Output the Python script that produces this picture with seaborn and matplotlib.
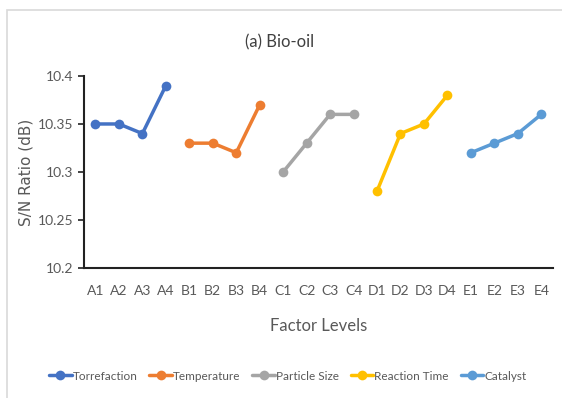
import matplotlib
matplotlib.use("Agg")
import matplotlib.pyplot as plt
import matplotlib.patches as patches
import seaborn as sns
import pandas as pd

# factor levels on the x axis
levels = ["A1", "A2", "A3", "A4", "B1", "B2", "B3", "B4", "C1", "C2", "C3", "C4",
          "D1", "D2", "D3", "D4", "E1", "E2", "E3", "E4"]

# S/N ratio per factor (4 levels each)
torrefaction = [10.35, 10.35, 10.34, 10.39]
temperature = [10.33, 10.33, 10.32, 10.37]
particle_size = [10.30, 10.33, 10.36, 10.36]
reaction_time = [10.28, 10.34, 10.35, 10.38]
catalyst = [10.32, 10.33, 10.34, 10.36]

series_names = ["Torrefaction", "Temperature", "Particle Size", "Reaction Time", "Catalyst"]
series_vals = [torrefaction, temperature, particle_size, reaction_time, catalyst]
colors = ["#4472C4", "#ED7D31", "#A5A5A5", "#FFC000", "#5B9BD5"]

rows = []
for i, (name, vals) in enumerate(zip(series_names, series_vals)):
    for j, v in enumerate(vals):
        rows.append({"pos": i * 4 + j, "level": levels[i * 4 + j], "factor": name, "sn": v})
df = pd.DataFrame(rows)

sns.set_style("white")
plt.rcParams['font.family'] = ['Lato', 'DejaVu Sans']

fig = plt.figure(figsize=(5.62, 3.98), dpi=100)
ax = fig.add_axes([0.149, 0.327, 0.835, 0.482])

sns.lineplot(data=df, x="pos", y="sn", hue="factor", hue_order=series_names,
             palette=colors, marker="o", markersize=7, markeredgewidth=0,
             linewidth=2.5, ax=ax, legend=True)

ax.set_xlim(-0.5, 19.5)
ax.set_ylim(10.2, 10.4)
ax.set_xticks(range(len(levels)))
ax.set_xticklabels(levels)
ax.set_yticks([10.2, 10.25, 10.3, 10.35, 10.4])
ax.set_yticklabels(["10.2", "10.25", "10.3", "10.35", "10.4"])
ax.tick_params(axis="x", length=0, labelsize=10, labelcolor="#595959", pad=12)
ax.tick_params(axis="y", length=4, width=1.2, direction="out", left=True,
               labelsize=10, labelcolor="#595959", color="#222222")

for s in ["top", "right"]:
    ax.spines[s].set_visible(False)
ax.spines["left"].set_color("#222222")
ax.spines["left"].set_linewidth(1.5)
ax.spines["bottom"].set_color("#222222")
ax.spines["bottom"].set_linewidth(1.5)

ax.set_xlabel("Factor Levels", fontsize=12, color="#595959")
ax.set_ylabel("S/N Ratio (dB)", fontsize=11, color="#595959", family="DejaVu Sans")
ax.xaxis.set_label_coords(0.5, -0.26)
ax.yaxis.set_label_coords(-0.108, 0.5)

fig.text(0.497, 0.893, "(a) Bio-oil", ha="center", va="center", fontsize=12, color="#404040")

handles, labels = ax.get_legend_handles_labels()
ax.legend(handles, labels, loc="center", ncol=5, frameon=False, fontsize=8.5,
          labelcolor="#595959", handlelength=1.9, handletextpad=0.1, columnspacing=1.0,
          bbox_to_anchor=(0.512, 0.055), bbox_transform=fig.transFigure)

# light frame around the chart area
fig.patches.append(patches.Rectangle((0.012, -0.05), 1.1, 1.025, transform=fig.transFigure,
                                     fill=False, edgecolor="#d9d9d9", linewidth=1.2))

fig.savefig("out.png", dpi=100)
